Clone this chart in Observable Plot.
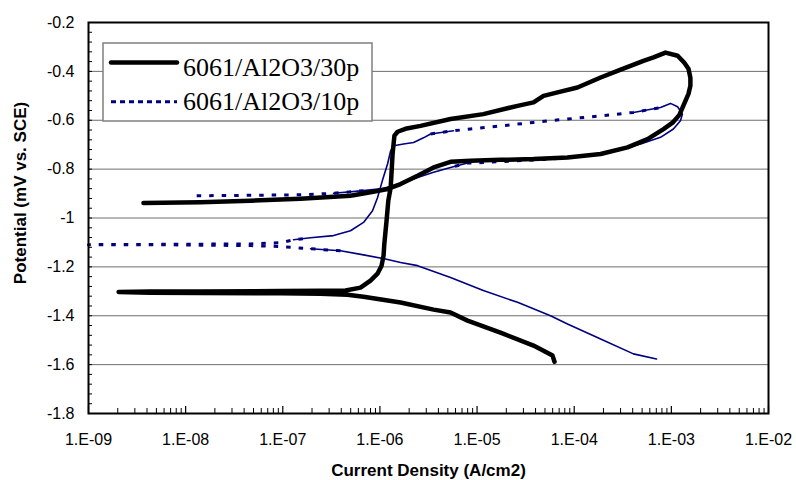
<!DOCTYPE html>
<html><head><meta charset="utf-8">
<script src="https://cdn.jsdelivr.net/npm/d3@7"></script>
<script src="https://cdn.jsdelivr.net/npm/@observablehq/plot@0.6"></script>
<style>body{margin:0;background:#fff;}</style>
</head><body><div id="chart"></div>
<script>
// Series names
const seriesNames = ["6061/Al2O3/30p", "6061/Al2O3/10p"];
// 6061/Al2O3/30p: current density (A/cm2) and potential, in scan order
const i30 = [6.27e-5, 5.98e-5, 4.83e-5, 3.81e-5, 1.74e-5, 7.98e-6, 5.33e-6, 3.57e-6, 1.63e-6, 6.78e-7, 4.63e-7, 2.44e-7, 9.49e-8, 1.42e-8, 4.34e-9, 2.04e-9,
  4.34e-9, 1.42e-8, 9.49e-8, 2.44e-7, 4.43e-7, 6.31e-7, 8.00e-7, 9.44e-7, 1.04e-6, 1.09e-6, 1.11e-6, 1.17e-6, 1.22e-6, 1.29e-6, 1.32e-6, 1.35e-6, 1.41e-6, 1.52e-6, 1.83e-6, 2.62e-6,
  5.33e-6, 1.16e-5, 2.61e-5, 3.81e-5, 4.83e-5, 6.73e-5, 1.08e-4, 1.87e-4, 2.79e-4, 5.16e-4, 6.55e-4, 8.71e-4, 1.16e-3, 1.36e-3, 1.50e-3, 1.57e-3, 1.57e-3, 1.50e-3, 1.40e-3, 1.30e-3,
  1.21e-3, 1.03e-3, 8.30e-4, 5.69e-4, 3.54e-4, 1.87e-4, 8.53e-5, 3.81e-5, 1.74e-5, 8.55e-6, 5.33e-6, 3.57e-6, 2.44e-6, 1.63e-6, 1.20e-6, 8.00e-7, 4.98e-7, 1.52e-7, 4.66e-8, 1.42e-8, 3.68e-9];
const e30 = [-1.588, -1.563, -1.543, -1.522, -1.469, -1.420, -1.387, -1.375, -1.346, -1.322, -1.314, -1.310, -1.308, -1.307, -1.306, -1.303,
  -1.301, -1.301, -1.299, -1.298, -1.297, -1.285, -1.256, -1.228, -1.195, -1.154, -1.105, -1.011, -0.929, -0.876, -0.807, -0.737, -0.663, -0.647, -0.635, -0.623,
  -0.595, -0.575, -0.541, -0.527, -0.500, -0.486, -0.466, -0.425, -0.398, -0.357, -0.343, -0.323, -0.336, -0.365, -0.389, -0.426, -0.459, -0.492, -0.520, -0.549,
  -0.578, -0.610, -0.636, -0.677, -0.711, -0.738, -0.752, -0.759, -0.762, -0.766, -0.770, -0.793, -0.827, -0.861, -0.881, -0.895, -0.909, -0.921, -0.929, -0.936, -0.939];
// 6061/Al2O3/10p
const i10 = [7.03e-4, 4.07e-4, 1.87e-4, 8.53e-5, 5.70e-5, 2.61e-5, 1.16e-5, 5.33e-6, 2.44e-6, 1.63e-6, 1.14e-6, 6.78e-7, 3.93e-7, 1.93e-7, 9.49e-8, 4.66e-8, 1.42e-8, 4.34e-9, 1.0e-9,
  4.34e-9, 1.42e-8, 4.66e-8, 9.49e-8, 1.29e-7, 1.93e-7, 3.33e-7, 4.98e-7, 6.78e-7, 8.39e-7, 9.44e-7, 1.06e-6, 1.20e-6, 1.29e-6, 1.38e-6, 1.75e-6, 2.22e-6, 2.81e-6, 3.32e-6,
  5.71e-6, 8.55e-6, 1.74e-5, 3.81e-5, 8.53e-5, 1.87e-4, 4.07e-4, 7.73e-4, 9.79e-4, 1.16e-3, 1.30e-3, 1.24e-3, 1.05e-3, 7.73e-4, 4.82e-4, 2.79e-4, 1.25e-4, 5.70e-5, 2.61e-5,
  1.16e-5, 7.98e-6, 5.33e-6, 3.57e-6, 2.44e-6, 1.63e-6, 1.01e-6, 6.78e-7, 3.33e-7, 1.52e-7, 4.66e-8, 1.21e-8];
const e10 = [-1.577, -1.556, -1.495, -1.434, -1.400, -1.345, -1.297, -1.243, -1.195, -1.182, -1.168, -1.151, -1.134, -1.126, -1.117, -1.113, -1.111, -1.109, -1.109,
  -1.108, -1.107, -1.106, -1.101, -1.089, -1.081, -1.072, -1.052, -1.018, -0.970, -0.917, -0.847, -0.778, -0.725, -0.704, -0.697, -0.691, -0.672, -0.656,
  -0.643, -0.636, -0.623, -0.609, -0.595, -0.582, -0.568, -0.548, -0.531, -0.545, -0.575, -0.602, -0.636, -0.670, -0.697, -0.725, -0.745, -0.759, -0.766,
  -0.773, -0.775, -0.793, -0.813, -0.834, -0.861, -0.881, -0.888, -0.899, -0.905, -0.907, -0.909];
// Axis ticks and labels
const xTickValues = [1e-9, 1e-8, 1e-7, 1e-6, 1e-5, 1e-4, 1e-3, 1e-2];
const xTickLabels = ["1.E-09", "1.E-08", "1.E-07", "1.E-06", "1.E-05", "1.E-04", "1.E-03", "1.E-02"];
const yTickValues = [-0.2, -0.4, -0.6, -0.8, -1, -1.2, -1.4, -1.6, -1.8];
const yTickLabels = ["-0.2", "-0.4", "-0.6", "-0.8", "-1", "-1.2", "-1.4", "-1.6", "-1.8"];
const xTitle = "Current Density (A/cm2)";
const yTitle = "Potential (mV vs. SCE)";

// Layout
const W = 796, H = 480, mL = 88, mR = 28, mT = 22, mB = 67;
const innerW = W - mL - mR, innerH = H - mT - mB;

const rows30 = i30.map((v, k) => ({i: v, e: e30[k]}));
// blue line style spans (indices into the 10p arrays)
const blueSolidSpans = [[0, 13], [23, 38], [44, 55], [58, 65]];
const blueDashSpans = [[12, 24], [37, 45], [54, 59], [64, 68]];
const spanRows = spans => spans.flatMap(([a, b], k) => d3.range(a, b + 1).map(j => ({i: i10[j], e: e10[j], k})));

const xMinor = [];
for (let d = -9; d < -2; d++) for (let m = 2; m <= 9; m++) xMinor.push(m * Math.pow(10, d));
const yMinor = d3.range(0, 41).map(k => -1.8 + k * 0.04);
const xLab = new Map(xTickValues.map((v, k) => [v, xTickLabels[k]]));
const yLab = new Map(yTickValues.map((v, k) => [v, yTickLabels[k]]));

const chart = Plot.plot({
  width: W, height: H, marginLeft: mL, marginRight: mR, marginTop: mT, marginBottom: mB,
  style: {fontFamily: "'Liberation Sans', Arial, sans-serif", fontSize: "16px", color: "black", background: "white"},
  x: {type: "log", domain: [1e-9, 1e-2]},
  y: {domain: [-1.8, -0.2]},
  marks: [
    Plot.ruleY(yTickValues.slice(1, -1), {stroke: "#6e6e6e", strokeWidth: 1}),
    Plot.tickX(xMinor, {x: d => d, insetTop: innerH - 5, stroke: "black", strokeWidth: 1}),
    Plot.tickX(xTickValues, {x: d => d, insetTop: innerH - 7, stroke: "black", strokeWidth: 1.2}),
    Plot.tickY(yMinor, {y: d => d, insetRight: innerW - 4, stroke: "black", strokeWidth: 1}),
    Plot.axisX(xTickValues, {tickSize: 0, tickPadding: 20, tickFormat: d => xLab.get(d), label: null, fontSize: 16}),
    Plot.axisY(yTickValues, {tickSize: 0, tickPadding: 14, tickFormat: d => yLab.get(d), label: null, fontSize: 16}),
    Plot.line(spanRows(blueSolidSpans), {x: "i", y: "e", z: "k", stroke: "#000080", strokeWidth: 1.6}),
    Plot.line(spanRows(blueDashSpans), {x: "i", y: "e", z: "k", stroke: "#000080", strokeWidth: 3, strokeDasharray: "4.5,8", strokeLinecap: "butt"}),
    Plot.line(rows30, {x: "i", y: "e", stroke: "black", strokeWidth: 4.5, strokeLinejoin: "round", strokeLinecap: "round"}),
    Plot.frame({stroke: "black", strokeWidth: 2}),
    Plot.text([xTitle], {text: d => d, frameAnchor: "bottom", lineAnchor: "middle", textAnchor: "middle", dy: 57, fontWeight: "bold", fontSize: 17}),
    Plot.text([yTitle], {text: d => d, frameAnchor: "left", lineAnchor: "middle", textAnchor: "middle", rotate: -90, dx: -68, dy: -25, fontWeight: "bold", fontSize: 17})
  ]
});
document.getElementById("chart").appendChild(chart);

// Legend (inside plot, top-left)
const svg = d3.select(chart);
const lg = svg.append("g");
lg.append("rect").attr("x", 103).attr("y", 43).attr("width", 269).attr("height", 78)
  .attr("fill", "white").attr("stroke", "#808080").attr("stroke-width", 1.5);
lg.append("line").attr("x1", 111).attr("x2", 177).attr("y1", 62.5).attr("y2", 62.5)
  .attr("stroke", "black").attr("stroke-width", 4.5).attr("stroke-linecap", "round");
lg.append("line").attr("x1", 111).attr("x2", 177).attr("y1", 101.7).attr("y2", 101.7)
  .attr("stroke", "#000080").attr("stroke-width", 3).attr("stroke-dasharray", "5,4");
lg.selectAll("text.lab").data(seriesNames).join("text").attr("class", "lab")
  .attr("x", 183).attr("y", (d, k) => k === 0 ? 76 : 110)
  .attr("text-anchor", "start")
  .attr("font-family", "'Liberation Serif', 'Times New Roman', serif").attr("font-size", 26)
  .attr("fill", "black").text(d => d);
</script></body></html>
